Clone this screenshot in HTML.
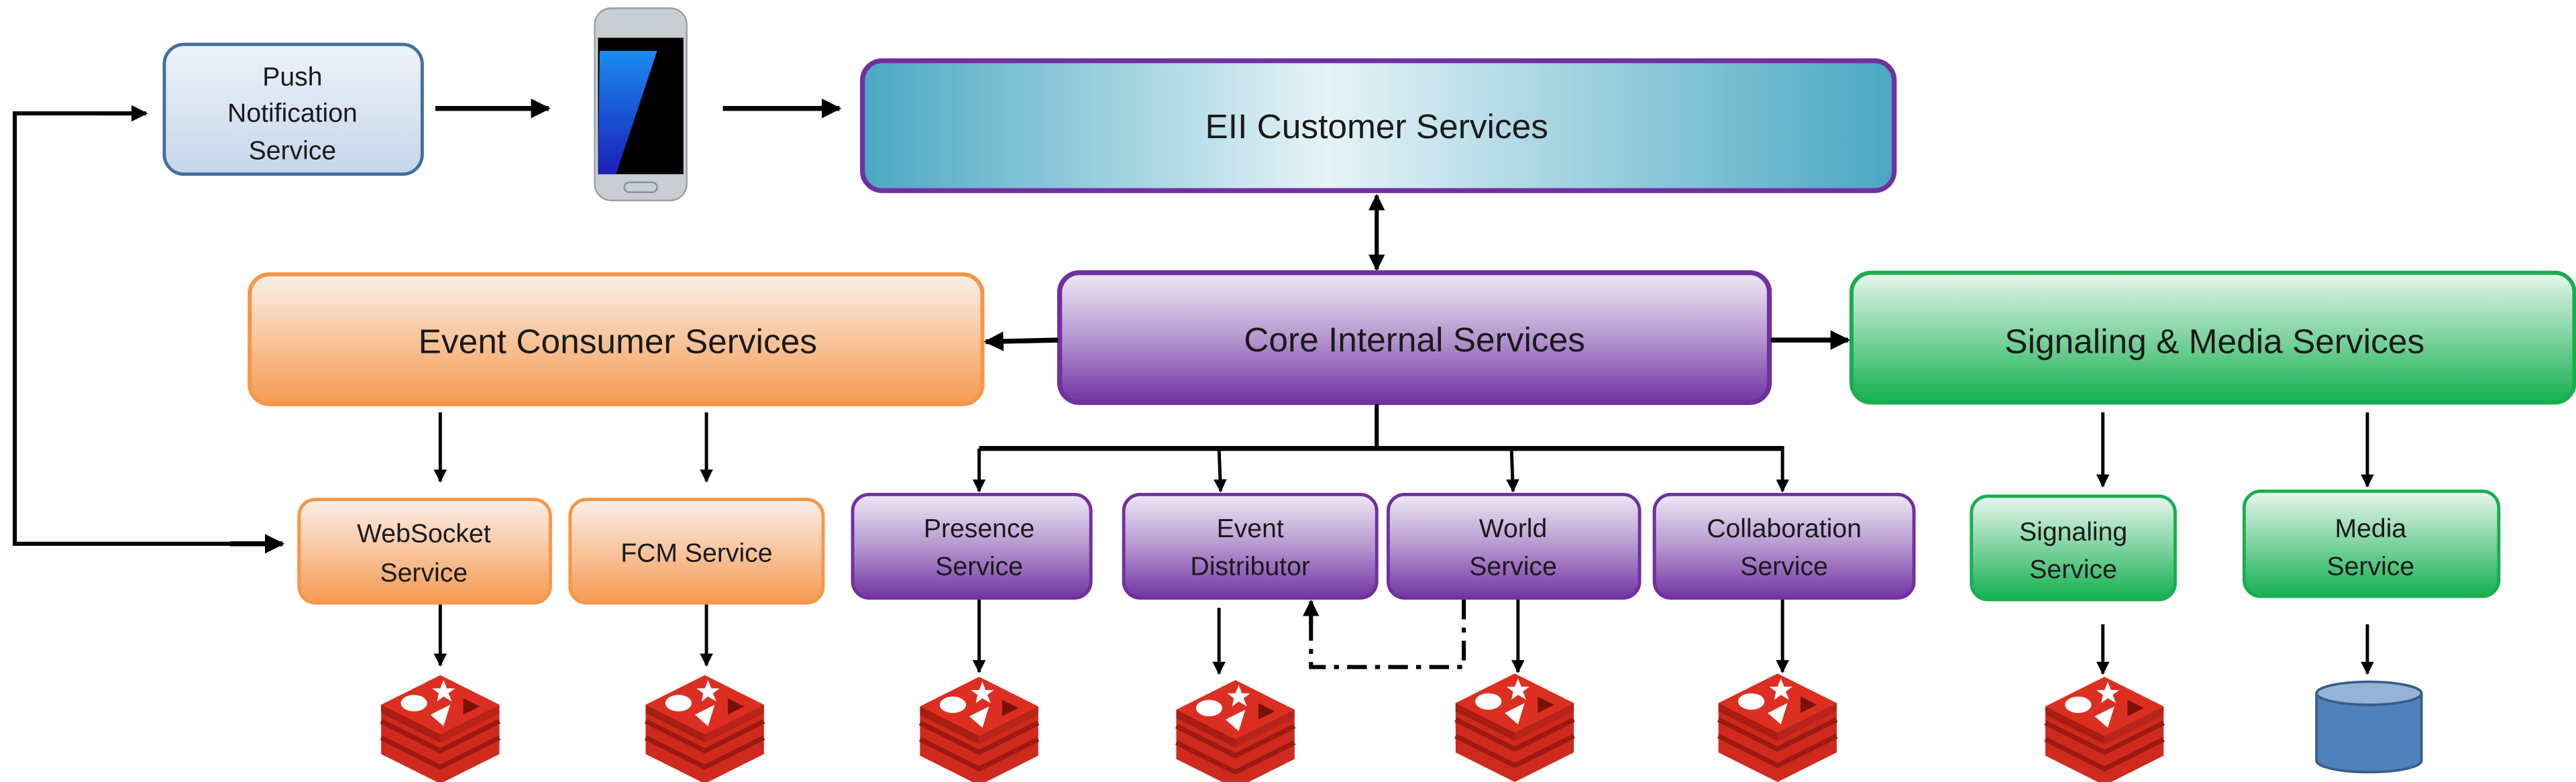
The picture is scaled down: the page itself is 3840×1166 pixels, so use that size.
<!DOCTYPE html>
<html><head><meta charset="utf-8"><style>
html,body{margin:0;padding:0;background:#fff;}
svg{display:block;}
text{font-family:"Liberation Sans",sans-serif;fill:#1a1a1a;text-anchor:middle;}
</style></head><body>
<svg width="3840" height="1166" viewBox="0 0 1568 476" preserveAspectRatio="none" xmlns="http://www.w3.org/2000/svg">
<defs>
<linearGradient id="gBlue" x1="0" y1="0" x2="0" y2="1"><stop offset="0" stop-color="#eef3fa"/><stop offset="1" stop-color="#c7d6ea"/></linearGradient>
<linearGradient id="gEII" x1="0" y1="0" x2="1" y2="0"><stop offset="0" stop-color="#4aa8c3"/><stop offset="0.45" stop-color="#e6f3f7"/><stop offset="1" stop-color="#4aa8c3"/></linearGradient>
<linearGradient id="gPurple" x1="0" y1="0" x2="0" y2="1"><stop offset="0" stop-color="#efe9f5"/><stop offset="0.5" stop-color="#b597cf"/><stop offset="1" stop-color="#7433a3"/></linearGradient>
<linearGradient id="gOrange" x1="0" y1="0" x2="0" y2="1"><stop offset="0" stop-color="#fbf0ea"/><stop offset="1" stop-color="#f59a4f"/></linearGradient>
<linearGradient id="gGreen" x1="0" y1="0" x2="0" y2="1"><stop offset="0" stop-color="#e8f6ee"/><stop offset="1" stop-color="#14b050"/></linearGradient>
<linearGradient id="gScreen" x1="0" y1="0" x2="0" y2="1"><stop offset="0" stop-color="#1a8cf0"/><stop offset="1" stop-color="#1a1fb8"/></linearGradient>
<marker id="ah" viewBox="0 0 10 10" refX="9" refY="5" markerWidth="4" markerHeight="4" orient="auto-start-reverse"><path d="M0,0 L10,5 L0,10 z" fill="#000"/></marker>
<g id="redis">
  <polygon points="0,18 36,0 72,18 72,48 36,66 0,48" fill="#d0291e"/>
  <polyline points="0,28 36,46 72,28" fill="none" stroke="#9c1a10" stroke-width="3"/>
  <polyline points="0,38 36,56 72,38" fill="none" stroke="#9c1a10" stroke-width="3"/>
  <polygon points="0,18 36,36 36,41 0,23" fill="#a81d12"/>
  <polygon points="72,18 36,36 36,41 72,23" fill="#b8231a"/>
  <polygon points="0,18 36,0 72,18 36,36" fill="#dc2f22"/>
  <ellipse cx="20" cy="17" rx="8" ry="5" fill="#fff"/>
  <polygon points="38,3 40,8 45,8 41,11 43,16 38,13 34,16 35,11 31,8 36,8" fill="#fff"/>
  <polygon points="30,24 42,18 38,31" fill="#fff"/>
  <polygon points="50,14 60,19 50,24" fill="#7a1109"/>
</g>
</defs>

<!-- Push Notification -->
<rect x="100" y="27" width="157" height="79" rx="12" fill="url(#gBlue)" stroke="#41719c" stroke-width="2"/>
<text x="178" y="52" font-size="16">Push</text>
<text x="178" y="74" font-size="16">Notification</text>
<text x="178" y="97" font-size="16">Service</text>

<!-- Phone -->
<rect x="362" y="5" width="56" height="117" rx="10" fill="#c9ced3" stroke="#9aa0a6" stroke-width="1"/>
<rect x="364" y="23" width="52" height="83" fill="#000"/>
<polygon points="365,31 400,31 375,106 364,106" fill="url(#gScreen)"/>
<rect x="380" y="111" width="20" height="6" rx="3" fill="none" stroke="#8a9096" stroke-width="1"/>

<line x1="265" y1="66" x2="334" y2="66" stroke="#000" stroke-width="3" marker-end="url(#ah)"/>
<line x1="440" y1="66" x2="511" y2="66" stroke="#000" stroke-width="3" marker-end="url(#ah)"/>

<!-- EII -->
<rect x="525" y="37" width="628" height="79" rx="12" fill="url(#gEII)" stroke="#7030a0" stroke-width="3"/>
<text x="838" y="84" font-size="21">EII Customer Services</text>
<line x1="838" y1="119" x2="838" y2="164" stroke="#000" stroke-width="2.5" marker-start="url(#ah)" marker-end="url(#ah)"/>

<!-- Core -->
<rect x="645" y="166" width="432" height="79" rx="12" fill="url(#gPurple)" stroke="#7030a0" stroke-width="3"/>
<text x="861" y="214" font-size="21">Core Internal Services</text>

<!-- Event Consumer -->
<rect x="152" y="167" width="446" height="79" rx="12" fill="url(#gOrange)" stroke="#f79646" stroke-width="2.5"/>
<text x="376" y="215" font-size="21">Event Consumer Services</text>
<line x1="644" y1="207" x2="600" y2="208" stroke="#000" stroke-width="3" marker-end="url(#ah)"/>

<!-- Signaling & Media -->
<rect x="1127" y="166" width="440" height="79" rx="12" fill="url(#gGreen)" stroke="#1aad50" stroke-width="2.5"/>
<text x="1348" y="215" font-size="21">Signaling &amp; Media Services</text>
<line x1="1078" y1="207" x2="1125" y2="207" stroke="#000" stroke-width="3" marker-end="url(#ah)"/>

<!-- left loop -->
<polyline points="87,69 9,69 9,331 170,331" fill="none" stroke="#000" stroke-width="2.5"/>
<line x1="60" y1="69" x2="89" y2="69" stroke="#000" stroke-width="2.5" marker-end="url(#ah)"/>
<line x1="140" y1="331" x2="172" y2="331" stroke="#000" stroke-width="3" marker-end="url(#ah)"/>

<!-- Event consumer children -->
<line x1="268" y1="251" x2="268" y2="293" stroke="#000" stroke-width="2" marker-end="url(#ah)"/>
<line x1="430" y1="251" x2="430" y2="293" stroke="#000" stroke-width="2" marker-end="url(#ah)"/>
<rect x="182" y="304" width="153" height="63" rx="10" fill="url(#gOrange)" stroke="#f79646" stroke-width="2"/>
<text x="258" y="330" font-size="16">WebSocket</text>
<text x="258" y="354" font-size="16">Service</text>
<rect x="347" y="304" width="154" height="63" rx="10" fill="url(#gOrange)" stroke="#f79646" stroke-width="2"/>
<text x="424" y="342" font-size="16">FCM Service</text>
<line x1="268" y1="368" x2="268" y2="405" stroke="#000" stroke-width="2" marker-end="url(#ah)"/>
<line x1="430" y1="368" x2="430" y2="405" stroke="#000" stroke-width="2" marker-end="url(#ah)"/>
<use href="#redis" x="232" y="411"/>
<use href="#redis" x="393" y="411"/>

<!-- Core bus -->
<line x1="838" y1="246" x2="838" y2="273" stroke="#000" stroke-width="2.5"/>
<line x1="596" y1="273" x2="1086" y2="273" stroke="#000" stroke-width="3"/>
<line x1="596" y1="273" x2="596" y2="299" stroke="#000" stroke-width="2" marker-end="url(#ah)"/>
<line x1="742" y1="273" x2="743" y2="299" stroke="#000" stroke-width="2" marker-end="url(#ah)"/>
<line x1="920" y1="273" x2="921" y2="299" stroke="#000" stroke-width="2" marker-end="url(#ah)"/>
<line x1="1085" y1="273" x2="1085" y2="299" stroke="#000" stroke-width="2" marker-end="url(#ah)"/>

<rect x="519" y="301" width="145" height="63" rx="10" fill="url(#gPurple)" stroke="#7030a0" stroke-width="2"/>
<text x="596" y="327" font-size="16">Presence</text>
<text x="596" y="350" font-size="16">Service</text>
<rect x="684" y="301" width="154" height="63" rx="10" fill="url(#gPurple)" stroke="#7030a0" stroke-width="2"/>
<text x="761" y="327" font-size="16">Event</text>
<text x="761" y="350" font-size="16">Distributor</text>
<rect x="845" y="301" width="153" height="63" rx="10" fill="url(#gPurple)" stroke="#7030a0" stroke-width="2"/>
<text x="921" y="327" font-size="16">World</text>
<text x="921" y="350" font-size="16">Service</text>
<rect x="1007" y="301" width="158" height="63" rx="10" fill="url(#gPurple)" stroke="#7030a0" stroke-width="2"/>
<text x="1086" y="327" font-size="16">Collaboration</text>
<text x="1086" y="350" font-size="16">Service</text>

<line x1="596" y1="365" x2="596" y2="409" stroke="#000" stroke-width="2" marker-end="url(#ah)"/>
<line x1="742" y1="370" x2="742" y2="410" stroke="#000" stroke-width="2" marker-end="url(#ah)"/>
<line x1="924" y1="365" x2="924" y2="409" stroke="#000" stroke-width="2" marker-end="url(#ah)"/>
<line x1="1085" y1="365" x2="1085" y2="409" stroke="#000" stroke-width="2" marker-end="url(#ah)"/>
<polyline points="891,365 891,406 798,406 798,368" fill="none" stroke="#000" stroke-width="2.5" stroke-dasharray="12,5,3,5"/>
<line x1="798" y1="380" x2="798" y2="366" stroke="#000" stroke-width="2.5" marker-end="url(#ah)"/>
<use href="#redis" x="560" y="412"/>
<use href="#redis" x="716" y="414"/>
<use href="#redis" x="886" y="410"/>
<use href="#redis" x="1046" y="410"/>

<!-- Signaling/Media children -->
<line x1="1280" y1="251" x2="1280" y2="296" stroke="#000" stroke-width="2" marker-end="url(#ah)"/>
<line x1="1441" y1="251" x2="1441" y2="296" stroke="#000" stroke-width="2" marker-end="url(#ah)"/>
<rect x="1200" y="302" width="124" height="63" rx="10" fill="url(#gGreen)" stroke="#1aad50" stroke-width="2"/>
<text x="1262" y="329" font-size="16">Signaling</text>
<text x="1262" y="352" font-size="16">Service</text>
<rect x="1366" y="299" width="155" height="64" rx="10" fill="url(#gGreen)" stroke="#1aad50" stroke-width="2"/>
<text x="1443" y="327" font-size="16">Media</text>
<text x="1443" y="350" font-size="16">Service</text>
<line x1="1280" y1="380" x2="1280" y2="410" stroke="#000" stroke-width="2" marker-end="url(#ah)"/>
<line x1="1441" y1="380" x2="1441" y2="410" stroke="#000" stroke-width="2" marker-end="url(#ah)"/>
<use href="#redis" x="1245" y="412"/>
<path d="M1410,422 L1410,463 A32,7 0 0 0 1474,463 L1474,422" fill="#4f81bd" stroke="#385d8a" stroke-width="1.5"/>
<ellipse cx="1442" cy="422" rx="32" ry="7" fill="#95b3d7" stroke="#385d8a" stroke-width="1.5"/>
</svg>
</body></html>
